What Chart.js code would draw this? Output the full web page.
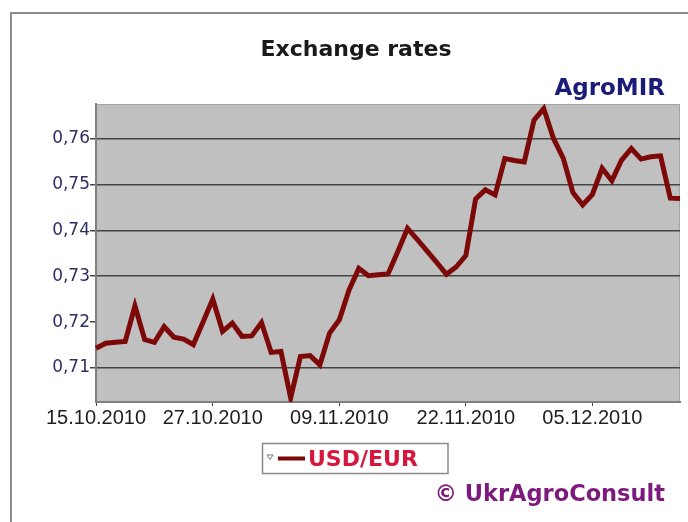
<!DOCTYPE html>
<html>
<head>
<meta charset="utf-8">
<title>Exchange rates</title>
<script src="https://cdn.jsdelivr.net/npm/chart.js@4/dist/chart.umd.min.js"></script>
<style>
  html, body { margin: 0; padding: 0; background: #fff; }
  #chart-box { width: 688px; height: 522px; }
</style>
</head>
<body>
<div id="chart-box"><canvas id="rates-chart" width="688" height="522"></canvas></div>
<script>
'use strict';

// ******* DATA *********
let dates = [
  '15.10.2010', '16.10.2010', '17.10.2010', '18.10.2010', '19.10.2010', '20.10.2010', '21.10.2010',
  '22.10.2010', '23.10.2010', '24.10.2010', '25.10.2010', '26.10.2010', '27.10.2010', '28.10.2010',
  '29.10.2010', '30.10.2010', '31.10.2010',
  '01.11.2010', '02.11.2010', '03.11.2010', '04.11.2010', '05.11.2010', '06.11.2010', '07.11.2010',
  '08.11.2010', '09.11.2010', '10.11.2010', '11.11.2010', '12.11.2010', '13.11.2010', '14.11.2010',
  '15.11.2010', '16.11.2010', '17.11.2010', '18.11.2010', '19.11.2010', '20.11.2010', '21.11.2010',
  '22.11.2010', '23.11.2010', '24.11.2010', '25.11.2010', '26.11.2010', '27.11.2010', '28.11.2010',
  '29.11.2010', '30.11.2010',
  '01.12.2010', '02.12.2010', '03.12.2010', '04.12.2010', '05.12.2010', '06.12.2010', '07.12.2010',
  '08.12.2010', '09.12.2010', '10.12.2010', '11.12.2010', '12.12.2010', '13.12.2010', '14.12.2010'
];

let usdEur = [
  0.7143, 0.7154, 0.7156, 0.7158, 0.7235, 0.7162, 0.7156, 0.7190, 0.7167, 0.7163,
  0.7151, 0.7200, 0.7250, 0.7180, 0.7198, 0.7169, 0.7170, 0.7199, 0.7134, 0.7136,
  0.7035, 0.7125, 0.7127, 0.7107, 0.7176, 0.7205, 0.7270, 0.7317, 0.7301, 0.7303,
  0.7305, 0.7353, 0.7404, 0.7380, 0.7355, 0.7330, 0.7304, 0.7320, 0.7345, 0.7468,
  0.7488, 0.7477, 0.7556, 0.7552, 0.7549, 0.7640, 0.7665, 0.7600, 0.7557, 0.7482,
  0.7455, 0.7478, 0.7535, 0.7508, 0.7553, 0.7578, 0.7555, 0.7560, 0.7562, 0.7470,
  0.7469
];

// dates that get a label under the axis
let xTickLabels = ['15.10.2010', '27.10.2010', '09.11.2010', '22.11.2010', '05.12.2010'];

let yTicks = [0.71, 0.72, 0.73, 0.74, 0.75, 0.76];
let yMin = 0.7026;
let yMax = 0.7675;

// ******* CANVAS ELEMENT *****
let ctx = document.getElementById('rates-chart');

let lineColor = '#7d0808';

// ****** PLUGIN FOR FRAME, TITLE, LEGEND BOX ******
let decorPlugin = {
  id: 'decor',
  beforeDraw(chart) {
    let c = chart.ctx;
    let area = chart.chartArea;
    c.save();
    c.fillStyle = '#ffffff';
    c.fillRect(0, 0, chart.width, chart.height);

    // outer frame (only top and left edges are inside the picture)
    c.strokeStyle = '#8c8c8c';
    c.lineWidth = 2;
    c.beginPath();
    c.moveTo(11, chart.height);
    c.lineTo(11, 13);
    c.lineTo(chart.width, 13);
    c.stroke();

    // grey plot area
    c.fillStyle = '#c0c0c0';
    c.fillRect(area.left, area.top, area.right - area.left, area.bottom - area.top);
    c.strokeStyle = '#a4a4a4';
    c.lineWidth = 1;
    c.strokeRect(area.left + 0.5, area.top + 0.5, area.right - area.left - 1, area.bottom - area.top - 1);
    c.restore();
  },
  afterDraw(chart) {
    let c = chart.ctx;
    let ds = chart.data.datasets[0];
    c.save();
    c.textBaseline = 'alphabetic';

    c.fillStyle = '#1a1a1a';
    c.font = 'bold 22px "DejaVu Sans"';
    c.textAlign = 'center';
    c.fillText('Exchange rates', 356, 56);

    c.fillStyle = '#1b1b78';
    c.font = 'bold 23px "DejaVu Sans"';
    c.textAlign = 'right';
    c.fillText('AgroMIR', 665, 95);

    c.fillStyle = '#7d1a7d';
    c.font = 'bold 22.5px "DejaVu Sans"';
    c.fillText('\u00a9 UkrAgroConsult', 665, 501);

    // legend
    c.strokeStyle = '#8a8a8a';
    c.lineWidth = 1.5;
    c.strokeRect(262.5, 443.5, 185.5, 30);

    c.strokeStyle = '#777777';
    c.lineWidth = 1;
    c.beginPath();
    c.moveTo(267, 455);
    c.lineTo(273, 455);
    c.lineTo(270, 459.5);
    c.closePath();
    c.stroke();

    c.strokeStyle = ds.borderColor;
    c.lineWidth = 4;
    c.beginPath();
    c.moveTo(278, 458.5);
    c.lineTo(305, 458.5);
    c.stroke();

    c.fillStyle = '#d6163c';
    c.font = 'bold 22px "DejaVu Sans"';
    c.textAlign = 'left';
    c.fillText(ds.label, 308, 466);
    c.restore();
  }
};

// ****** CHART CONFIG ******
let chartObj = {
  type: 'line',
  data: {
    labels: dates,
    datasets: [{
      label: 'USD/EUR',
      data: usdEur,
      borderColor: lineColor,
      borderWidth: 5,
      pointRadius: 0,
      tension: 0,
      fill: false
    }]
  },
  options: {
    responsive: false,
    animation: false,
    events: [],
    layout: {
      padding: { top: 104, left: 0, right: 8, bottom: 80 }
    },
    plugins: {
      legend: { display: false },
      title: { display: false },
      tooltip: { enabled: false }
    },
    scales: {
      x: {
        afterFit: function (scale) { scale.height = 40; },
        border: { display: true, color: '#808080', width: 2 },
        grid: {
          drawOnChartArea: false,
          drawTicks: true,
          tickLength: 4,
          tickColor: '#444444'
        },
        ticks: {
          autoSkip: false,
          maxRotation: 0,
          padding: 0,
          color: '#1e1e1e',
          font: { family: '"Liberation Sans", Arial, sans-serif', size: 20 },
          callback: function (value, index) {
            let label = dates[index];
            return xTickLabels.includes(label) ? label : null;
          }
        }
      },
      y: {
        min: yMin,
        max: yMax,
        afterFit: function (scale) { scale.width = 96; },
        afterBuildTicks: function (scale) {
          scale.ticks = yTicks.map(v => ({ value: v }));
        },
        border: { display: true, color: '#808080', width: 2 },
        grid: {
          lineWidth: 1.5,
          tickLength: 6,
          tickColor: '#444444',
          // the 0,72 line is not drawn in the original picture
          color: function (c) {
            return (c.tick && Math.abs(c.tick.value - 0.72) < 1e-6) ? 'rgba(0,0,0,0)' : '#444444';
          }
        },
        ticks: {
          padding: 0,
          color: '#2e2e66',
          font: { family: '"DejaVu Sans", Verdana, sans-serif', size: 17 },
          callback: function (value) {
            return value.toFixed(2).replace('.', ',');
          }
        }
      }
    }
  },
  plugins: [decorPlugin]
};

new Chart(ctx, chartObj); //eslint-disable-line
</script>
</body>
</html>
